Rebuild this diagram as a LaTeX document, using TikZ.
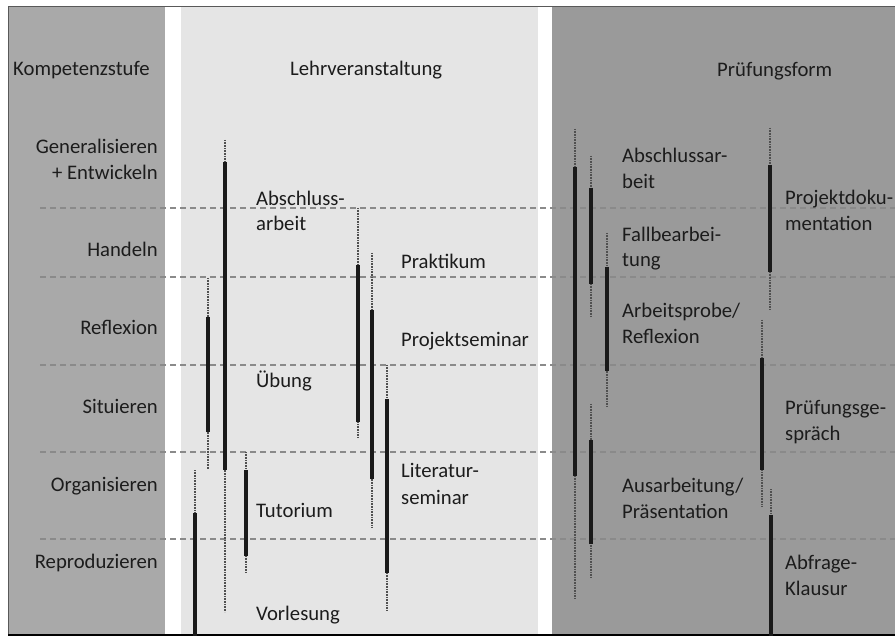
\documentclass[tikz,border=0pt]{standalone}
\usepackage{fontspec}
\setmainfont{Carlito}
\definecolor{leftpanel}{HTML}{A9A9A9}
\definecolor{midpanel}{HTML}{E5E5E5}
\definecolor{rightpanel}{HTML}{9A9A9A}
\definecolor{dashcol}{HTML}{8A8A8A}
\definecolor{barcol}{HTML}{1A1A1A}
\definecolor{whiskcol}{HTML}{505050}
\definecolor{textcol}{HTML}{1C1C1C}
\tikzset{
  lbl/.style={inner sep=0pt, text=textcol, font=\fontsize{20.7}{25.5}\selectfont},
  lblR/.style={lbl, anchor=base east},
  lblL/.style={lbl, anchor=base west},
  levelline/.style={draw=dashcol, line width=1.3pt, dash pattern=on 6pt off 4pt},
  whisker/.style={draw=whiskcol, line width=1.3pt, dash pattern=on 0.8pt off 0.8pt},
  thickbar/.style={draw=barcol, line width=3.2pt},
}
\newcommand\kbar[5]{%
  \draw[whisker] (#1,#2) -- (#1,#5);
  \draw[thickbar] (#1,#3) -- (#1,#4);
}
\begin{document}
\begin{tikzpicture}[x=1pt,y=-1pt]
\useasboundingbox (0,0) rectangle (895,636);
\fill[white] (0,0) rectangle (895,636);
% panels
\fill[leftpanel] (8,7) rectangle (165,636);
\fill[midpanel] (181,7) rectangle (538,636);
\fill[rightpanel] (552,7) rectangle (895,636);
% frame
\draw[draw=gray!70!black, line width=1pt] (8,634) -- (8,7) -- (895,7);
\draw[draw=black, line width=2pt] (8,635) -- (895,635);
% level lines
\foreach \yy in {208,277,365,452,539}
  \draw[levelline] (40,\yy) -- (895,\yy);
% headers
\node[lblL] (h1) at (13,76) {Kompetenzstufe};
\node[lblL] (h2) at (290,76) {Lehrveranstaltung};
\node[lblL] (h3) at (717,77) {Prüfungsform};
% competence levels
\node[lblR] (k1a) at (158,154) {Generalisieren};
\node[lblR] (k1b) at (158,180) {+ Entwickeln};
\node[lblR] (k2) at (158,257) {Handeln};
\node[lblR] (k3) at (158,335) {Reflexion};
\node[lblR] (k4) at (158,414) {Situieren};
\node[lblR] (k5) at (158,491) {Organisieren};
\node[lblR] (k6) at (158,568) {Reproduzieren};
% bars middle
\kbar{225}{140}{162}{470}{612}
\kbar{208}{278}{317}{432}{469}
\kbar{195}{470}{513}{636}{636}
\kbar{246}{452}{470}{556}{573}
\kbar{358}{208}{265}{422}{437}
\kbar{372}{253}{310}{479}{527}
\kbar{387}{365}{399}{573}{610}
% bars right
\kbar{575}{129}{167}{476}{598}
\kbar{591}{156}{188}{284}{317}
\kbar{607}{233}{267}{371}{406}
\kbar{591}{404}{440}{544}{578}
\kbar{770}{128}{165}{272}{309}
\kbar{762}{320}{358}{470}{507}
\kbar{771}{489}{515}{636}{636}
% middle labels
\node[lblL] (m1a) at (256,206) {Abschluss-};
\node[lblL] (m1b) at (256,231) {arbeit};
\node[lblL] (m2) at (401,269) {Praktikum};
\node[lblL] (m3) at (401,347) {Projektseminar};
\node[lblL] (m4) at (256,388) {Übung};
\node[lblL] (m5a) at (401,478) {Literatur-};
\node[lblL] (m5b) at (401,504) {seminar};
\node[lblL] (m6) at (256,517) {Tutorium};
\node[lblL] (m7) at (256,620) {Vorlesung};
% right labels
\node[lblL] (p1a) at (622,163) {Abschlussar-};
\node[lblL] (p1b) at (622,189) {beit};
\node[lblL] (p2a) at (622,242) {Fallbearbei-};
\node[lblL] (p2b) at (622,267) {tung};
\node[lblL] (p3a) at (622,318) {Arbeitsprobe/};
\node[lblL] (p3b) at (622,344) {Reflexion};
\node[lblL] (p4a) at (622,493) {Ausarbeitung/};
\node[lblL] (p4b) at (622,518) {Präsentation};
\node[lblL] (p5a) at (785,205) {Projektdoku-};
\node[lblL] (p5b) at (785,231) {mentation};
\node[lblL] (p6a) at (785,415) {Prüfungsge-};
\node[lblL] (p6b) at (785,441) {spräch};
\node[lblL] (p7a) at (785,569) {Abfrage-};
\node[lblL] (p7b) at (785,595) {Klausur};
\end{tikzpicture}
\end{document}
